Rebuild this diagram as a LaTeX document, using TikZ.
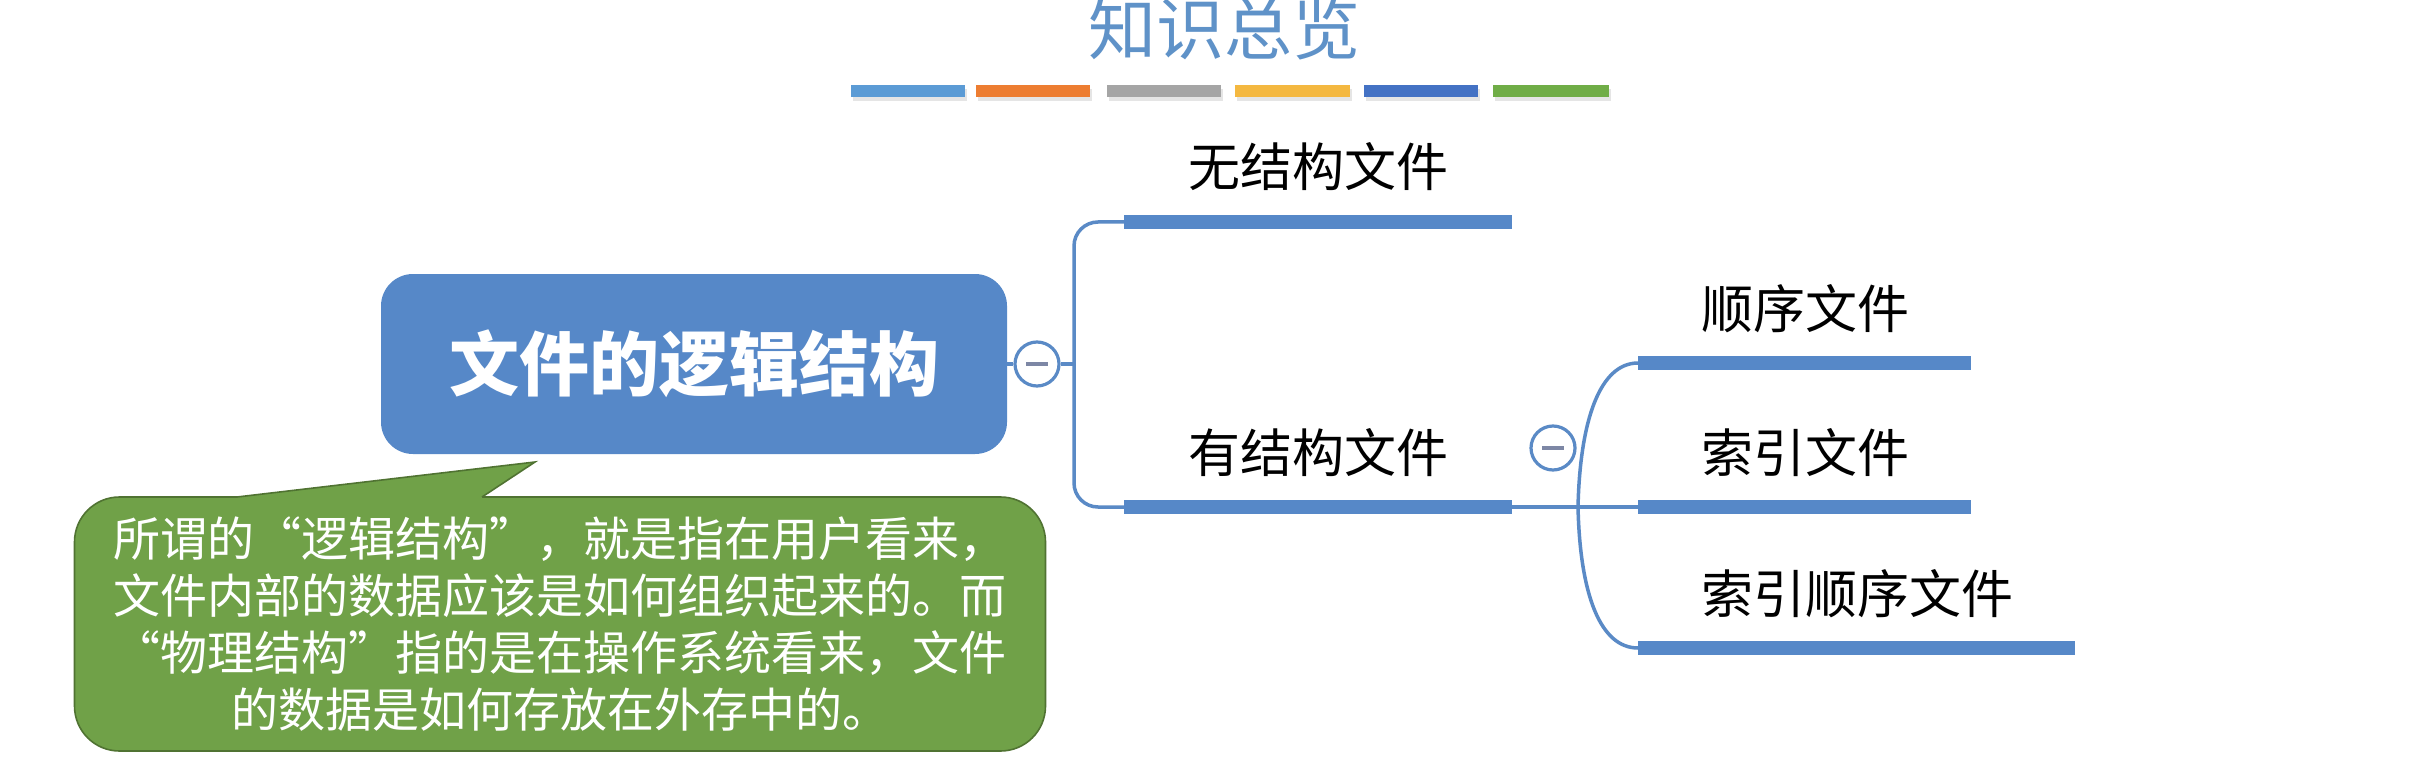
\documentclass[tikz,border=0pt]{standalone}
\usepackage{fontspec}
\newfontfamily\cjk{Noto Sans CJK SC}
\usetikzlibrary{calc}
\definecolor{titleblue}{RGB}{95,146,200}
\definecolor{mainblue}{RGB}{86,136,200}
\definecolor{linkblue}{RGB}{90,138,198}
\definecolor{barA}{RGB}{91,155,213}
\definecolor{barB}{RGB}{237,125,49}
\definecolor{barC}{RGB}{165,165,165}
\definecolor{barD}{RGB}{244,184,64}
\definecolor{barE}{RGB}{68,114,196}
\definecolor{barF}{RGB}{112,173,71}
\definecolor{notegreen}{RGB}{112,161,72}
\definecolor{noteedge}{RGB}{80,115,50}
\definecolor{minusgray}{RGB}{125,135,165}
\begin{document}
\begin{tikzpicture}[x=1pt,y=-1pt,
  conn/.style={draw=linkblue, line width=3.5pt},
  topicbar/.style={draw=mainblue, line width=14pt},
  topic/.style={text=black, font=\cjk\fontsize{52}{56}\selectfont, inner sep=0pt, anchor=base},
  rootbox/.style={fill=mainblue, rounded corners=32pt, minimum width=626pt, minimum height=180pt, text=white, font=\cjk\bfseries\fontsize{70}{74}\selectfont, inner sep=0pt},
  collapse/.style={circle, draw=linkblue, line width=3.2pt, fill=white, minimum size=44pt, inner sep=0pt},
  minusbar/.style={draw=minusgray, line width=3.5pt},
  notebox/.style={fill=notegreen, draw=noteedge, line width=1.6pt, rounded corners=45pt, minimum width=971pt, minimum height=254pt, text=white, align=center, font=\cjk\fontsize{47}{57}\selectfont, inner sep=0pt},
  decobar/.style={line width=12pt},
  titletext/.style={text=titleblue, font=\cjk\fontsize{68}{70}\selectfont, inner sep=0pt, anchor=base}
]
\fill[white] (0,0) rectangle (2414,778);
\useasboundingbox (0,0) rectangle (2414,778);

% title
\node[titletext] (title) at (1224,55) {知识总览};
\foreach \a/\b/\c in {851/965/barA, 976/1090/barB, 1107/1221/barC, 1235/1350/barD, 1364/1478/barE, 1493/1609/barF}{
  \draw[decobar, black!10] (\a+2,95) -- (\b+2,95);
  \draw[decobar, \c] (\a,91) -- (\b,91);
}

% coordinates
\coordinate (j1) at (1074,364);
\coordinate (b1s) at (1124,222); \coordinate (b1e) at (1512,222);
\coordinate (b2s) at (1124,507); \coordinate (b2e) at (1512,507);
\coordinate (j2) at (1578,507);
\coordinate (b3s) at (1638,363); \coordinate (b3e) at (1971,363);
\coordinate (b4s) at (1638,507); \coordinate (b4e) at (1971,507);
\coordinate (b5s) at (1638,648); \coordinate (b5e) at (2075,648);
\coordinate (tip) at (535,462);

% root
\node[rootbox] (root) at (694,364) {文件的逻辑结构};
\node[collapse] (c1) at (1037,364) {};
\node[collapse] (c2) at (1553,448) {};

% connectors
\draw[conn] (root.east) -- (c1.west);
\draw[conn] (c1.east) -- (j1);
\draw[conn, rounded corners=24pt] (b1s) -| (j1) |- (b2s);
\draw[conn] (b2e) -- (b4s);
\draw[conn] (j2) .. controls (1580,420) and (1600,363) .. (b3s);
\draw[conn] (j2) .. controls (1580,594) and (1600,648) .. (b5s);

% minus signs
\draw[minusbar] ($(c1)+(-11,0)$) -- ($(c1)+(11,0)$);
\draw[minusbar] ($(c2)+(-11,0)$) -- ($(c2)+(11,0)$);

% bars
\draw[topicbar] (b1s) -- (b1e);
\draw[topicbar] (b2s) -- (b2e);
\draw[topicbar] (b3s) -- (b3e);
\draw[topicbar] (b4s) -- (b4e);
\draw[topicbar] (b5s) -- (b5e);

% topic labels
\node[topic] (t1) at (1318,187) {无结构文件};
\node[topic] (t2) at (1318,472) {有结构文件};
\node[topic] (t3) at (1805,328) {顺序文件};
\node[topic] (t4) at (1805,472) {索引文件};
\node[topic] (t5) at (1857,613) {索引顺序文件};

% callout
\node[notebox] (note) at (560,624) {所谓的“逻辑结构”，就是指在用户看来，\\文件内部的数据应该是如何组织起来的。而\\“物理结构”指的是在操作系统看来，文件\\的数据是如何存放在外存中的。};
\fill[notegreen] (237,497) -- (tip) -- (482,497) -- (482,503) -- (237,503) -- cycle;
\draw[noteedge, line width=1.6pt, line join=miter] (237,497) -- (tip) -- (482,497);
\end{tikzpicture}
\end{document}
